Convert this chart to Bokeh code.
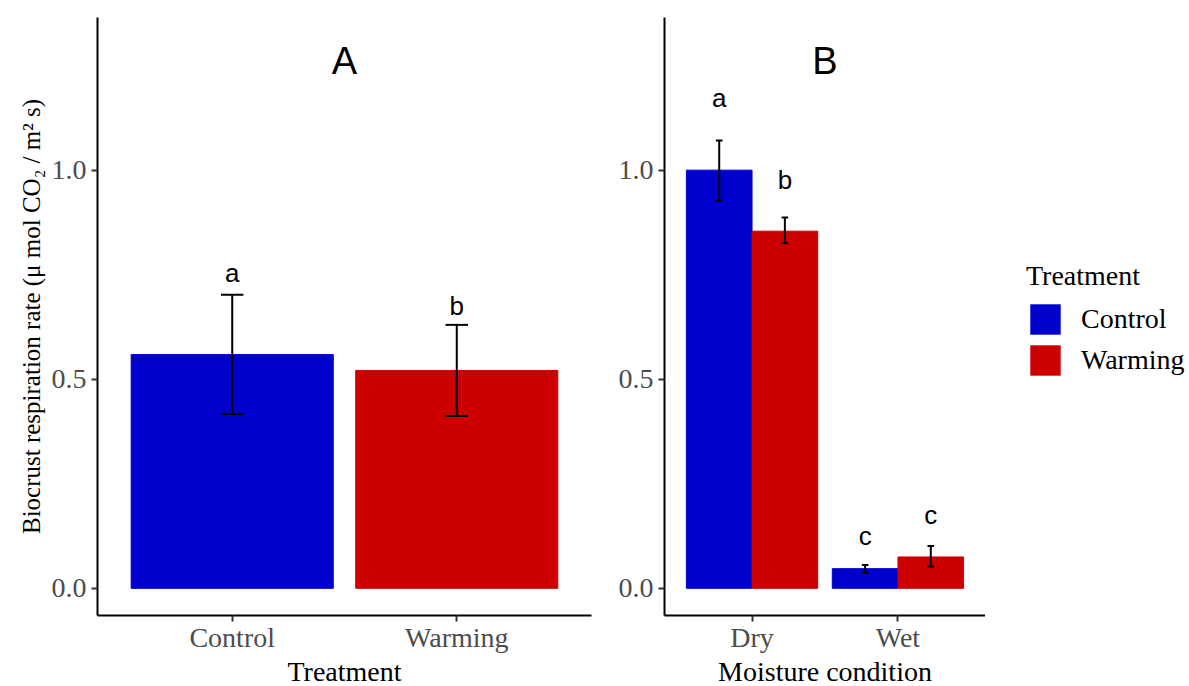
from bokeh.plotting import figure
from bokeh.layouts import row
from bokeh.models import Range1d, FixedTicker, PrintfTickFormatter, Legend, LegendItem
from bokeh.core.properties import value
from bokeh.embed import file_html
from bokeh.resources import INLINE

# ---------------- data ----------------
treatments = ["Control", "Warming"]
a_mean = [0.559, 0.521]
a_lower = [0.417, 0.412]
a_upper = [0.702, 0.630]
a_letters = ["a", "b"]
a_letter_y = [0.755, 0.674]

moisture = ["Dry", "Wet"]
b_control_mean = [1.000, 0.047]
b_control_lower = [0.927, 0.037]
b_control_upper = [1.071, 0.056]
b_warming_mean = [0.854, 0.075]
b_warming_lower = [0.825, 0.052]
b_warming_upper = [0.887, 0.101]
b_control_letters = ["a", "c"]
b_control_letter_y = [1.173, 0.125]
b_warming_letters = ["b", "c"]
b_warming_letter_y = [0.976, 0.176]

y_ticks = [0.0, 0.5, 1.0]
panel_titles = ["A", "B"]

CONTROL = "#0000CD"
WARMING = "#CD0000"
SERIF = "Liberation Serif"
SANS = "Liberation Sans"
Y_RANGE = (-0.065, 1.365)
TITLE_Y = 1.26
FIG_H = 685
TOP = 17
FRAME_H = 598


def style(p, xlabels, xlabel, ylabel):
    p.outline_line_color = None
    p.xgrid.visible = False
    p.ygrid.visible = False
    p.background_fill_color = "white"
    p.border_fill_color = "white"
    p.xaxis.ticker = FixedTicker(ticks=[i + 1 for i in range(len(xlabels))])
    p.xaxis.major_label_overrides = {i + 1: lab for i, lab in enumerate(xlabels)}
    p.yaxis.ticker = FixedTicker(ticks=y_ticks)
    p.yaxis.formatter = PrintfTickFormatter(format="%.1f")
    p.xaxis.axis_label = xlabel
    if ylabel:
        p.yaxis.axis_label = ylabel
    for ax in (p.xaxis[0], p.yaxis[0]):
        ax.axis_line_width = 2
        ax.axis_line_color = "black"
        ax.major_tick_line_color = "#333333"
        ax.major_tick_line_width = 2
        ax.major_tick_out = 6
        ax.major_tick_in = 0
        ax.minor_tick_line_color = None
        ax.major_label_text_font = SERIF
        ax.major_label_text_font_size = "28px"
        ax.major_label_text_color = "#4D4D4D"
        ax.axis_label_text_font = SERIF
        ax.axis_label_text_font_style = "normal"
        ax.axis_label_text_color = "black"
    p.xaxis.axis_label_text_font_size = "28px"
    p.yaxis.axis_label_text_font_size = "25px"
    p.xaxis.major_label_standoff = 0
    p.xaxis.axis_label_standoff = 0
    p.yaxis.major_label_standoff = 5
    p.yaxis.axis_label_standoff = 4


def errorbars(p, xs, lo, hi, half):
    p.segment(x0=xs, y0=lo, x1=xs, y1=hi, line_color="black", line_width=2)
    p.segment(x0=[x - half for x in xs], y0=hi, x1=[x + half for x in xs], y1=hi,
              line_color="black", line_width=2)
    p.segment(x0=[x - half for x in xs], y0=lo, x1=[x + half for x in xs], y1=lo,
              line_color="black", line_width=2)


def letters(p, xs, ys, labs):
    p.text(x=xs, y=ys, text=labs, text_font=value(SANS), text_font_size=value("26px"),
           text_align="center", text_baseline="alphabetic", text_color="black")


# ---------------- panel A ----------------
pA = figure(frame_width=494, frame_height=FRAME_H, min_border_left=97, min_border_right=10,
            min_border_top=TOP, min_border_bottom=FIG_H - TOP - FRAME_H,
            x_range=Range1d(0.4, 2.6), y_range=Range1d(*Y_RANGE),
            output_backend="svg", toolbar_location=None)
xa = [i + 1 for i in range(len(treatments))]
pA.vbar(x=xa, top=a_mean, bottom=0, width=0.9, fill_color=[CONTROL, WARMING],
        line_color=[CONTROL, WARMING])
errorbars(pA, xa, a_lower, a_upper, 0.05)
letters(pA, xa, a_letter_y, a_letters)
pA.text(x=[1.5], y=[TITLE_Y], text=[panel_titles[0]], text_font=value(SANS),
        text_font_size=value("38px"), text_align="center", text_baseline="alphabetic")
style(pA, treatments, "Treatment", "Biocrust respiration rate (\u03bc mol CO\u2082 / m\u00b2 s)")

# ---------------- panel B ----------------
pB = figure(frame_width=321, frame_height=FRAME_H, min_border_left=63, min_border_right=0,
            min_border_top=TOP, min_border_bottom=FIG_H - TOP - FRAME_H,
            x_range=Range1d(0.4, 2.6), y_range=Range1d(*Y_RANGE),
            output_backend="svg", toolbar_location=None)
xc = [i + 1 - 0.225 for i in range(len(moisture))]
xw = [i + 1 + 0.225 for i in range(len(moisture))]
pB.vbar(x=xc, top=b_control_mean, bottom=0, width=0.45, fill_color=CONTROL, line_color=CONTROL)
pB.vbar(x=xw, top=b_warming_mean, bottom=0, width=0.45, fill_color=WARMING, line_color=WARMING)
errorbars(pB, xc, b_control_lower, b_control_upper, 0.0225)
errorbars(pB, xw, b_warming_lower, b_warming_upper, 0.0225)
letters(pB, xc, b_control_letter_y, b_control_letters)
letters(pB, xw, b_warming_letter_y, b_warming_letters)
pB.text(x=[1.5], y=[TITLE_Y], text=[panel_titles[1]], text_font=value(SANS),
        text_font_size=value("38px"), text_align="center", text_baseline="alphabetic")
style(pB, moisture, "Moisture condition", None)

# ---------------- legend panel ----------------
pL = figure(width=202, height=FIG_H, min_border=0, x_axis_location=None, y_axis_location=None,
            x_range=Range1d(0, 1), y_range=Range1d(0, 1),
            output_backend="svg", toolbar_location=None)
pL.outline_line_color = None
pL.grid.visible = False
pL.background_fill_color = "white"
pL.border_fill_color = "white"
# zero-size key renderers: only used to draw the legend swatches
rc = pL.vbar(x=[0], top=[0], bottom=[0], width=0, fill_color=CONTROL, line_color=None)
rw = pL.vbar(x=[0], top=[0], bottom=[0], width=0, fill_color=WARMING, line_color=None)

legend = Legend(items=[LegendItem(label=treatments[0], renderers=[rc], index=0),
                       LegendItem(label=treatments[1], renderers=[rw], index=0)],
                title="Treatment", location=(41, 232))
legend.title_text_font = SERIF
legend.title_text_font_size = "28px"
legend.title_text_font_style = "normal"
legend.title_text_color = "black"
legend.title_standoff = 8
legend.label_text_font = SERIF
legend.label_text_font_size = "28px"
legend.label_text_color = "black"
legend.glyph_width = 38
legend.glyph_height = 38
legend.label_standoff = 17
legend.spacing = 3
legend.padding = 0
legend.margin = 0
legend.border_line_color = None
legend.background_fill_alpha = 0
pL.add_layout(legend, "center")

layout = row(pA, pB, pL)
open("out.html", "w").write(file_html(layout, INLINE))
